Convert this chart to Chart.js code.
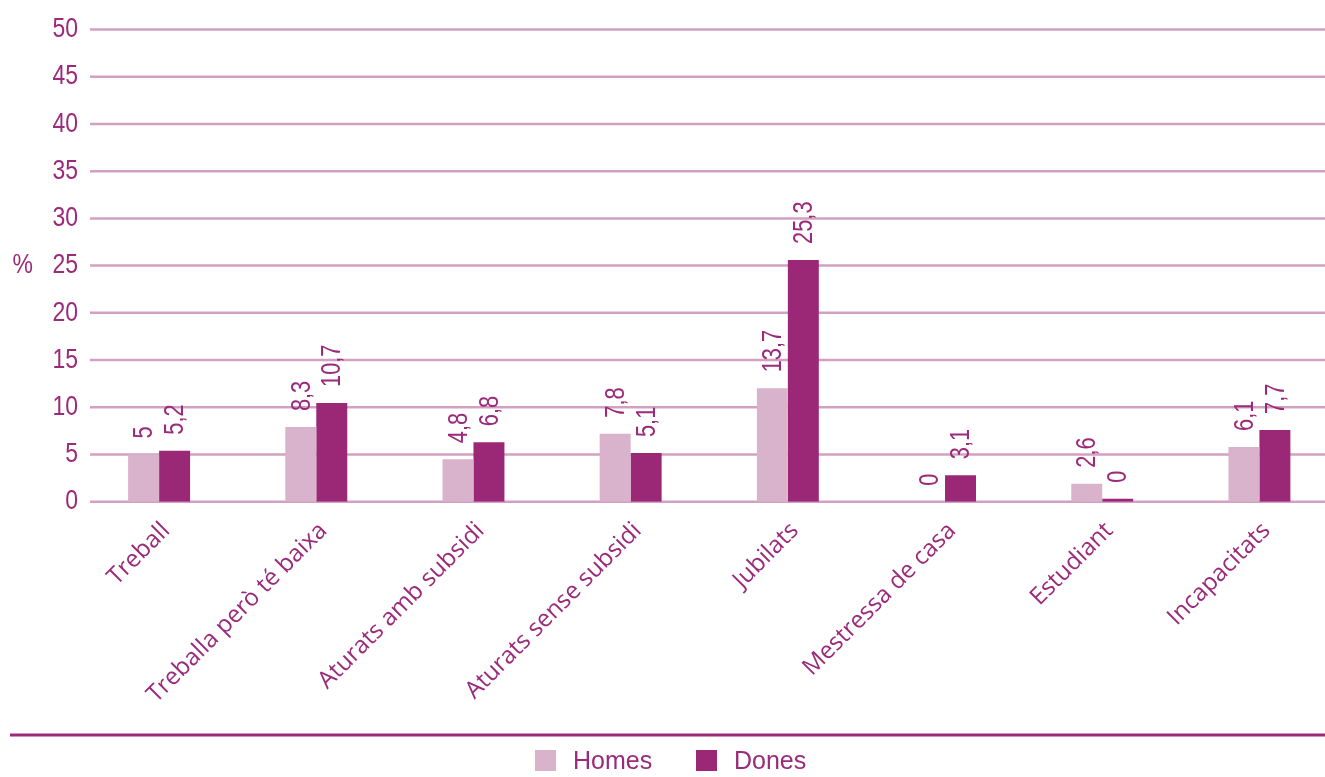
<!DOCTYPE html>
<html>
<head>
<meta charset="utf-8">
<script src="https://cdn.jsdelivr.net/npm/chart.js@4.4.1/dist/chart.umd.min.js"></script>
<style>
  html, body { margin: 0; padding: 0; background: #fff; overflow: hidden; }
  #wrap { position: relative; width: 1325px; height: 777px; overflow: hidden; }
  #box { position: absolute; left: 0; top: 0; width: 1340px; height: 777px; }
</style>
</head>
<body>
<div id="wrap"><div id="box"><canvas id="chart"></canvas></div></div>
<script>
// categories
const categories = ['Treball', 'Treballa però té baixa', 'Aturats amb subsidi', 'Aturats sense subsidi',
  'Jubilats', 'Mestressa de casa', 'Estudiant', 'Incapacitats']

// bar heights as drawn in the picture
const homesValues = [5.0, 7.9, 4.5, 7.2, 12.0, 0, 1.9, 5.8]
const donesValues = [5.4, 10.45, 6.3, 5.15, 25.6, 2.8, 0.3, 7.6]

// printed value labels
const homesLabels = ['5', '8,3', '4,8', '7,8', '13,7', '0', '2,6', '6,1']
const donesLabels = ['5,2', '10,7', '6,8', '5,1', '25,3', '3,1', '0', '7,7']

const INK = '#9b2a7a'
const NARROW = "'Liberation Sans', Arial, sans-serif"
const LABEL_FONT = "'Open Sans', 'Noto Sans', sans-serif"

// draw text squeezed horizontally (condensed look)
function narrowText(ctx, text, x, y, squeeze) {
  ctx.save()
  ctx.translate(x, y)
  ctx.scale(squeeze, 1)
  ctx.fillText(text, 0, 0)
  ctx.restore()
}

// horizontal grid lines and y tick labels
const gridPlugin = {
  id: 'grid',
  beforeDatasetsDraw(chart) {
    const ctx = chart.ctx
    const y = chart.scales.y
    ctx.save()
    ctx.strokeStyle = '#d2a1c2'
    ctx.lineWidth = 2.5
    y.ticks.forEach(t => {
      const py = y.getPixelForValue(t.value)
      ctx.beginPath()
      ctx.moveTo(90, py)
      ctx.lineTo(1325, py)
      ctx.stroke()
    })
    ctx.fillStyle = INK
    ctx.font = `28px ${NARROW}`
    ctx.textAlign = 'right'
    ctx.textBaseline = 'middle'
    y.ticks.forEach(t => {
      narrowText(ctx, String(t.value), 78, y.getPixelForValue(t.value), 0.82)
    })
    narrowText(ctx, '%', 33, y.getPixelForValue(25), 0.82)
    ctx.restore()
  }
}

// rotated value labels above the bars, bottom rule and legend
const extrasPlugin = {
  id: 'extras',
  afterDatasetsDraw(chart) {
    const ctx = chart.ctx
    const texts = [homesLabels, donesLabels]
    ctx.save()
    ctx.fillStyle = INK
    ctx.font = `28px ${NARROW}`
    ctx.textAlign = 'left'
    ctx.textBaseline = 'middle'
    chart.data.datasets.forEach((ds, di) => {
      chart.getDatasetMeta(di).data.forEach((bar, i) => {
        ctx.save()
        ctx.translate(bar.x + 1, bar.y - 16)
        ctx.rotate(-Math.PI / 2)
        ctx.scale(0.78, 1)
        ctx.fillText(texts[di][i], 0, 0)
        ctx.restore()
      })
    })

    // bottom rule
    ctx.strokeStyle = INK
    ctx.lineWidth = 3
    ctx.beginPath()
    ctx.moveTo(10, 735)
    ctx.lineTo(1325, 735)
    ctx.stroke()

    // legend
    const legendX = [535, 696]
    ctx.font = `25px ${NARROW}`
    ctx.textAlign = 'left'
    ctx.textBaseline = 'alphabetic'
    chart.data.datasets.forEach((ds, di) => {
      ctx.fillStyle = ds.backgroundColor
      ctx.fillRect(legendX[di], 750, 21, 21)
      ctx.fillStyle = INK
      ctx.fillText(ds.label, legendX[di] + 38, 769)
    })
    ctx.restore()
  }
}

new Chart(document.getElementById('chart'), {
  type: 'bar',
  data: {
    labels: categories,
    datasets: [
      { label: 'Homes', data: homesValues, backgroundColor: '#d8b3cb' },
      { label: 'Dones', data: donesValues, backgroundColor: '#9b2777' }
    ]
  },
  options: {
    responsive: true,
    maintainAspectRatio: false,
    animation: false,
    categoryPercentage: 0.394,
    barPercentage: 1.0,
    layout: { padding: { top: 29.5, right: 2, left: 0, bottom: 0 } },
    plugins: {
      legend: { display: false },
      tooltip: { enabled: false }
    },
    scales: {
      x: {
        grid: { display: false, drawTicks: false, tickLength: 0 },
        border: { display: false },
        ticks: {
          color: INK,
          font: { family: LABEL_FONT, size: 24 },
          minRotation: 45,
          maxRotation: 45,
          padding: 15,
          labelOffset: 7,
          autoSkip: false
        },
        afterFit(scale) { scale.height = 275.3 }
      },
      y: {
        min: 0,
        max: 50,
        grid: { display: false, drawTicks: false, tickLength: 0 },
        border: { display: false },
        ticks: { stepSize: 5, display: false },
        afterFit(scale) { scale.width = 80.5 }
      }
    }
  },
  plugins: [gridPlugin, extrasPlugin]
})
</script>
</body>
</html>
